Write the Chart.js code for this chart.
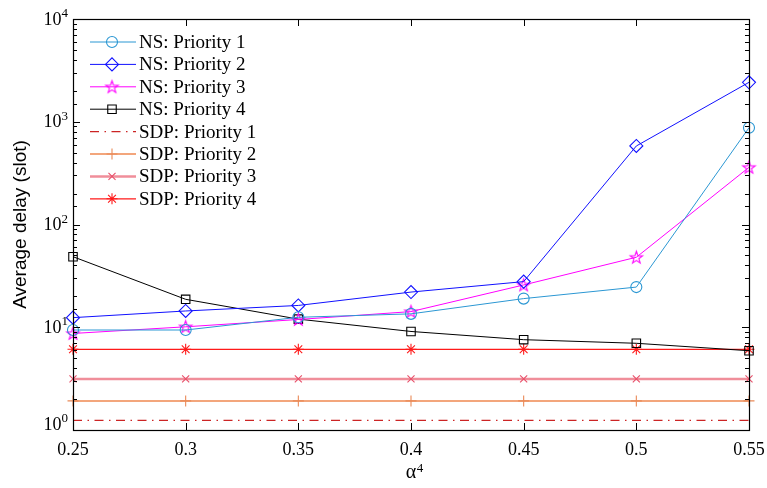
<!DOCTYPE html>
<html>
<head>
<meta charset="utf-8">
<script src="https://cdn.jsdelivr.net/npm/chart.js@4.4.1/dist/chart.umd.min.js"></script>
<style>
  html, body { margin: 0; padding: 0; background: #ffffff; }
  #wrap { width: 767px; height: 488px; }
</style>
</head>
<body>
<div id="wrap"><canvas id="c" width="767" height="488"></canvas></div>
<script>
// ---- data ----
const categories = ['0.25', '0.3', '0.35', '0.4', '0.45', '0.5', '0.55'];
const nsPriority1 = [9.4, 9.4, 12.5, 13.5, 19.0, 24.6, 875];
const nsPriority2 = [12.4, 14.4, 16.3, 22.0, 27.8, 581, 2420];
const nsPriority3 = [8.7, 10.1, 11.9, 14.2, 25.8, 48, 360];
const nsPriority4 = [48.6, 18.7, 12.0, 9.1, 7.57, 6.98, 5.91];
const sdpPriority1 = [1.24, 1.24, 1.24, 1.24, 1.24, 1.24, 1.24];
const sdpPriority2 = [1.92, 1.92, 1.92, 1.92, 1.92, 1.92, 1.92];
const sdpPriority3 = [3.14, 3.14, 3.14, 3.14, 3.14, 3.14, 3.14];
const sdpPriority4 = [6.1, 6.1, 6.1, 6.1, 6.1, 6.1, 6.1];
const seriesNames = ['NS: Priority 1', 'NS: Priority 2', 'NS: Priority 3', 'NS: Priority 4',
                     'SDP: Priority 1', 'SDP: Priority 2', 'SDP: Priority 3', 'SDP: Priority 4'];
const yExponentLabels = ['0', '1', '2', '3', '4'];
const xTitleBase = 'α';
const xTitleExp = '4';
const yTitle = 'Average delay (slot)';

// pentagram marker (outline) for NS Priority 3
function makeStar(color, rOut) {
  const c = document.createElement('canvas');
  const s = Math.ceil(rOut * 2 + 4);
  c.width = s; c.height = s;
  const g = c.getContext('2d');
  const cx = s / 2, cy = s / 2 + 0.5, rIn = rOut * 0.40;
  g.beginPath();
  for (let i = 0; i < 10; i++) {
    const r = i % 2 === 0 ? rOut : rIn;
    const a = -Math.PI / 2 + i * Math.PI / 5;
    const px = cx + r * Math.cos(a), py = cy + r * Math.sin(a);
    if (i === 0) g.moveTo(px, py); else g.lineTo(px, py);
  }
  g.closePath();
  g.strokeStyle = color; g.lineWidth = 1.1; g.stroke();
  return c;
}
const starImg = makeStar('#ff00ff', 6.5);

const serif = "'Liberation Serif', 'Times New Roman', serif";
const sans = "'Liberation Sans', Arial, sans-serif";

const styles = [
  { color: '#2b97d3', marker: '#2b97d3', width: 1, style: 'circle', r: 5.5 },
  { color: '#1010ff', marker: '#1010ff', width: 1, style: 'rectRot', r: 6.5 },
  { color: '#ff00ff', marker: '#ff00ff', width: 1, style: starImg, r: 6.5 },
  { color: '#000000', marker: '#000000', width: 1, style: 'rect', r: 6 },
  { color: '#cc2424', marker: '#cc2424', width: 1.3, style: false, r: 0, dash: [9, 5.5, 1.5, 5.5] },
  { color: '#f3a67c', marker: '#ea8a58', width: 2, style: 'cross', r: 5.5 },
  { color: '#f08e9a', marker: '#e8506a', width: 2.5, style: 'crossRot', r: 5 },
  { color: '#ff1a1a', marker: '#ff1a1a', width: 1.3, style: 'star', r: 5.5 }
];
const seriesValues = [nsPriority1, nsPriority2, nsPriority3, nsPriority4,
                      sdpPriority1, sdpPriority2, sdpPriority3, sdpPriority4];

const datasets = seriesValues.map((vals, i) => {
  const s = styles[i];
  return {
    label: seriesNames[i],
    data: vals,
    borderColor: s.color,
    borderWidth: s.width,
    borderDash: s.dash || [],
    backgroundColor: 'rgba(0,0,0,0)',
    pointStyle: s.style || 'circle',
    pointRadius: s.style ? s.r : 0,
    pointBorderColor: s.marker,
    pointBackgroundColor: 'rgba(0,0,0,0)',
    pointBorderWidth: 1.1,
    pointHoverRadius: s.style ? s.r : 0,
    tension: 0,
    fill: false,
    clip: false
  };
});

// plugin: box, inward tick marks, y labels with superscripts, x-title exponent, legend
const framePlugin = {
  id: 'frame',
  afterDatasetsDraw(chart) {
    const ctx = chart.ctx;
    const a = chart.chartArea;
    const xs = chart.scales.x, ys = chart.scales.y;
    ctx.save();
    ctx.strokeStyle = '#000';
    ctx.lineWidth = 1;
    // ticks on x
    for (let i = 0; i < categories.length; i++) {
      const px = Math.round(xs.getPixelForValue(i)) + 0.5;
      ctx.beginPath();
      ctx.moveTo(px, a.bottom); ctx.lineTo(px, a.bottom - 7);
      ctx.moveTo(px, a.top); ctx.lineTo(px, a.top + 7);
      ctx.stroke();
    }
    // ticks on y
    ys.ticks.forEach(t => {
      const v = t.value;
      const e = Math.log10(v);
      const major = Math.abs(e - Math.round(e)) < 1e-9;
      const len = major ? 7 : 4;
      const py = Math.round(ys.getPixelForValue(v)) + 0.5;
      ctx.beginPath();
      ctx.moveTo(a.left, py); ctx.lineTo(a.left + len, py);
      ctx.moveTo(a.right, py); ctx.lineTo(a.right - len, py);
      ctx.stroke();
    });
    // box
    ctx.lineWidth = 1.2;
    ctx.strokeRect(Math.round(a.left) + 0.5, Math.round(a.top) + 0.5,
                   Math.round(a.right - a.left), Math.round(a.bottom - a.top));
    // y tick labels 10^n
    ctx.fillStyle = '#000';
    yExponentLabels.forEach((ex, k) => {
      let py = ys.getPixelForValue(Math.pow(10, k));
      if (k === 0) py -= 6;
      ctx.font = '13px ' + serif;
      const ew = ctx.measureText(ex).width;
      const xr = a.left - 5;
      ctx.textBaseline = 'alphabetic';
      ctx.textAlign = 'left';
      ctx.fillText(ex, xr - ew, py - 2);
      ctx.font = '18px ' + serif;
      ctx.textAlign = 'right';
      ctx.textBaseline = 'middle';
      ctx.fillText('10', xr - ew, py + 1);
    });
    // x title exponent
    ctx.font = '20px ' + serif;
    const aw = ctx.measureText(xTitleBase).width;
    ctx.font = '13px ' + serif;
    ctx.textAlign = 'left';
    ctx.textBaseline = 'alphabetic';
    ctx.fillText(xTitleExp, (a.left + a.right) / 2 + aw / 2 + 0.5, 472);
    // legend
    const lx0 = 90, lx1 = 136, mx = 112, tx = 139, ly0 = 42, step = 22.4;
    datasets.forEach((d, i) => {
      const s = styles[i];
      const y = ly0 + i * step;
      ctx.save();
      ctx.strokeStyle = s.color;
      ctx.lineWidth = s.width;
      ctx.setLineDash(s.dash || []);
      ctx.beginPath();
      ctx.moveTo(lx0, y); ctx.lineTo(lx1, y);
      ctx.stroke();
      ctx.setLineDash([]);
      if (s.style) {
        ctx.strokeStyle = s.marker;
        ctx.fillStyle = 'rgba(0,0,0,0)';
        ctx.lineWidth = 1.1;
        Chart.helpers.drawPoint(ctx, { pointStyle: s.style, radius: s.r, rotation: 0, borderWidth: 1.1 }, mx, y);
      }
      ctx.restore();
      ctx.fillStyle = '#000';
      ctx.font = '19px ' + serif;
      ctx.textAlign = 'left';
      ctx.textBaseline = 'middle';
      ctx.fillText(d.label, tx, y + 1);
    });
    ctx.restore();
  }
};

new Chart(document.getElementById('c'), {
  type: 'line',
  data: { labels: categories, datasets: datasets },
  options: {
    responsive: false,
    animation: false,
    events: [],
    layout: { padding: { top: 19, right: 18, left: 0, bottom: 0 } },
    plugins: { legend: { display: false }, tooltip: { enabled: false } },
    scales: {
      x: {
        type: 'category',
        offset: false,
        grid: { display: false, drawTicks: false },
        border: { display: false },
        ticks: { color: '#000', font: { family: serif, size: 18 }, padding: 9, maxRotation: 0, autoSkip: false },
        title: { display: true, text: xTitleBase, color: '#000', font: { family: serif, size: 20 }, padding: { top: 0, bottom: 3 } },
        afterFit(s) { s.height = 58; s.paddingLeft = 0; s.paddingRight = 0; }
      },
      y: {
        type: 'logarithmic',
        min: 1,
        max: 10000,
        grid: { display: false, drawTicks: false },
        border: { display: false },
        ticks: { display: false, autoSkip: false },
        title: { display: true, text: yTitle, color: '#000', font: { family: sans, size: 19 }, padding: { top: 9, bottom: 0 } },
        afterFit(s) { s.width = 73; s.paddingTop = 0; s.paddingBottom = 0; }
      }
    }
  },
  plugins: [framePlugin]
});
</script>
</body>
</html>
